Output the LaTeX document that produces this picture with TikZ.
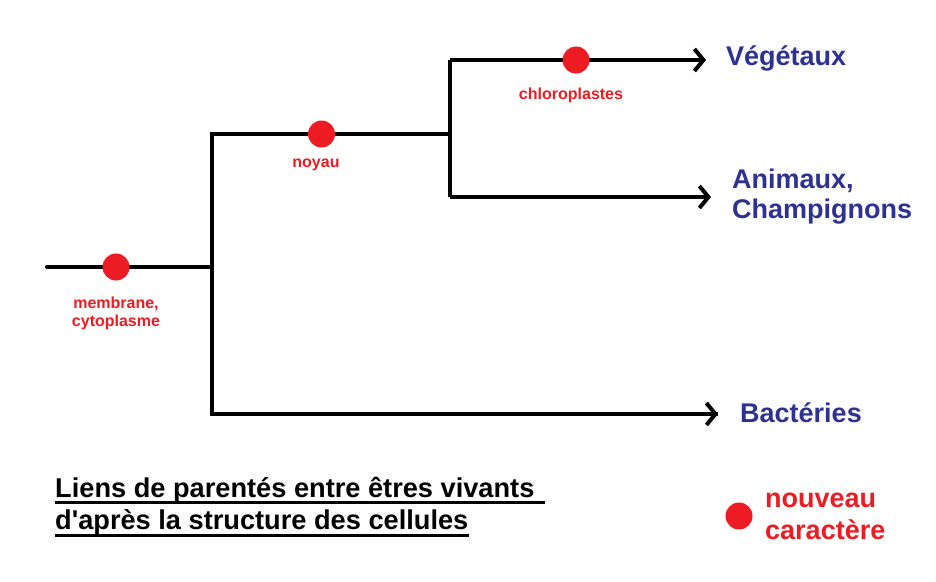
\documentclass[tikz,border=0pt]{standalone}
\usepackage{fontspec}
\setmainfont{Liberation Sans}
\usetikzlibrary{arrows.meta}
\definecolor{pred}{RGB}{237,28,36}
\definecolor{pblue}{RGB}{46,49,146}
\newcommand\straightquote{\XeTeXglyph\XeTeXcharglyph"0027\relax}
\begin{document}
\begin{tikzpicture}[x=1pt,y=-1pt,
  branch/.style={line width=4pt},
  arr/.style={branch,-{Straight Barb[length=9pt,width=22pt,line width=4pt]}},
  dot/.style={circle,fill=pred,minimum size=27pt,inner sep=0pt},
  trait/.style={text=pred,font=\bfseries\fontsize{16}{18}\selectfont,align=center,inner sep=0pt},
  taxon/.style={text=pblue,font=\bfseries\fontsize{27}{30}\selectfont,align=left,inner sep=0pt,anchor=west},
  titre/.style={font=\bfseries\fontsize{27.2}{30}\selectfont,inner sep=0pt,anchor=base west},
  legende/.style={text=pred,font=\bfseries\fontsize{27}{32}\selectfont,align=left,inner sep=0pt,anchor=west}]
\useasboundingbox[fill=white] (0,0) rectangle (936,581);
% coordinates
\coordinate (r0) at (47,267);
\coordinate (r1) at (211.5,267);
\coordinate (a1) at (211.5,134);
\coordinate (b1) at (211.5,414);
\coordinate (a2) at (450,134);
\coordinate (v1) at (450,60);
\coordinate (c1) at (450,197);
\coordinate (vE) at (706,60);
\coordinate (cE) at (711,197);
\coordinate (bE) at (718,414);
% tree
\draw[branch,line cap=round] (r0) -- (r1);
\draw[branch,line join=miter] (a2) -- (a1) -- (b1) -- (bE);
\draw[arr] (b1) -- (bE);
\draw[branch] (v1) -- (c1);
\draw[arr] (v1) -- (vE);
\draw[arr] (c1) -- (cE);
\draw[branch] (a1) -- (a2);
% dots
\node[dot] (d0) at (116,267) {};
\node[dot] (d1) at (321.5,134) {};
\node[dot] (d2) at (576,60) {};
% trait labels
\node[trait] (l0) at (116,313) {membrane,\\cytoplasme};
\node[trait] (l1) at (316,165) {noyau};
\node[trait] (l2) at (571,95) {chloroplastes};
% taxa
\node[taxon] (tv) at (726,58) {Végétaux};
\node[taxon] (ta) at (732,197) {Animaux,\\Champignons};
\node[taxon] (tb) at (740,413) {Bactéries};
% title
\node[titre] (t1) at (55,497) {Liens de parentés entre êtres vivants};
\node[titre] (t2) at (55,529) {d\straightquote après la structure des cellules};
\draw[line width=3pt] ([yshift=-5pt]t1.base west) -- ([yshift=-5pt,xshift=10pt]t1.base east);
\draw[line width=3pt] ([yshift=-6.5pt]t2.base west) -- ([yshift=-6.5pt]t2.base east);
% legend
\node[dot] (ld) at (739,516) {};
\node[legende] (lt) at (765,516) {nouveau\\caractère};
\end{tikzpicture}
\end{document}
